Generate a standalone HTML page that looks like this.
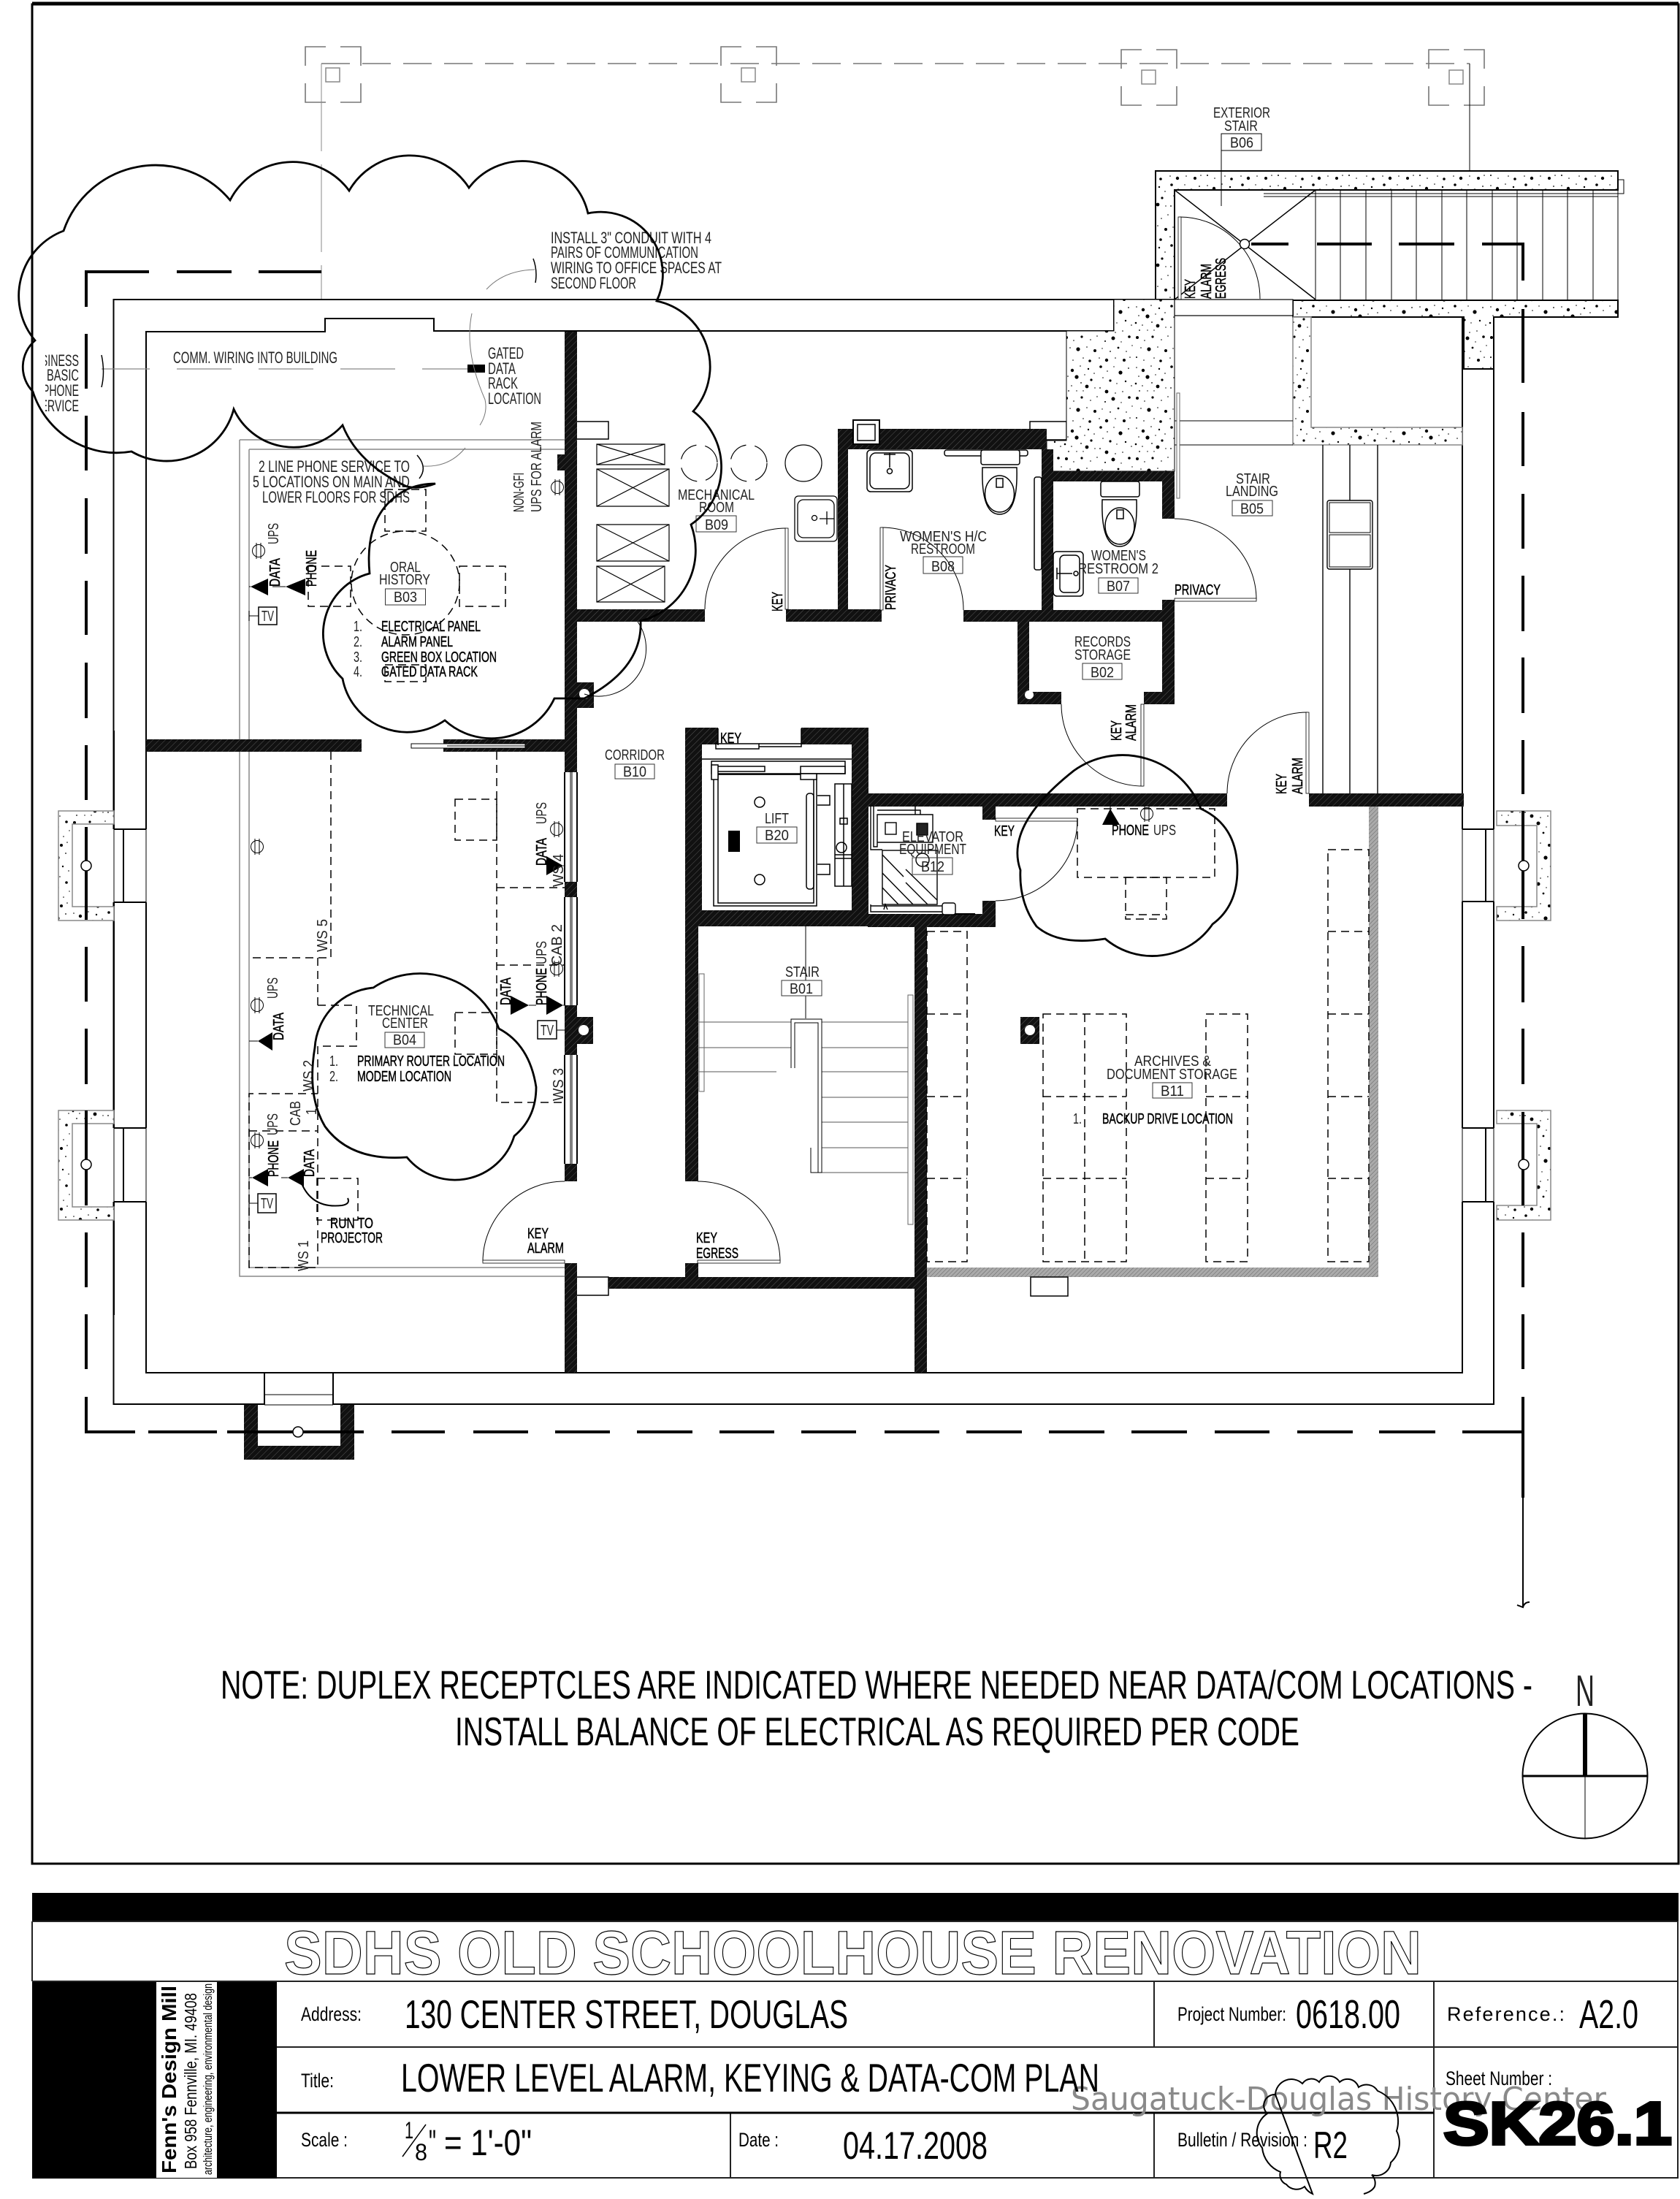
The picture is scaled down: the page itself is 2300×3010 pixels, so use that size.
<!DOCTYPE html>
<html><head><meta charset="utf-8"><style>
html,body{margin:0;padding:0;background:#fff}
svg{display:block}
text{font-family:"Liberation Sans",sans-serif;font-size:20px;fill:#222}
.n{font-size:22px}.b{stroke:#000;stroke-width:.5px;fill:#000}
.l{fill:none;stroke:#000;stroke-width:2}
.t{fill:none;stroke:#000;stroke-width:1}
.g{fill:none;stroke:#888;stroke-width:1.5}
.d{fill:none;stroke:#000;stroke-width:1.5;stroke-dasharray:11 7}
.c{fill:none;stroke:#000;stroke-width:2.8}
.k{fill:none;stroke:#000;stroke-width:4}
.w{fill:url(#h)}
.s{fill:url(#st);stroke:#000;stroke-width:2}
.sg{fill:url(#st);stroke:#888;stroke-width:1.5}
.tb{font-size:27px;fill:#000}.big{font-size:55px;fill:#000}
</style></head><body>
<svg width="2300" height="3010" viewBox="0 0 2300 3010" xmlns="http://www.w3.org/2000/svg">
<defs>
<pattern id="h" width="6" height="6" patternUnits="userSpaceOnUse" patternTransform="rotate(-45)"><rect width="6" height="6" fill="#111"/><line x1="0" y1="0" x2="6" y2="0" stroke="#555" stroke-width="1"/></pattern>
<pattern id="hg" width="4" height="4" patternUnits="userSpaceOnUse" patternTransform="rotate(-45)"><rect width="4" height="4" fill="#aaa"/><line x1="0" y1="0" x2="4" y2="0" stroke="#666" stroke-width="1"/></pattern>
<pattern id="st" width="97" height="83" patternUnits="userSpaceOnUse"><rect width="97" height="83" fill="#fff"/>
<g fill="#000"><circle cx="4" cy="5" r=".8"/><circle cx="13" cy="9" r="2.2"/><circle cx="24" cy="3" r=".8"/><circle cx="35" cy="7" r="1.2"/><circle cx="43" cy="13" r=".8"/><circle cx="7" cy="17" r=".8"/><circle cx="19" cy="18" r="2.6"/><circle cx="30" cy="15" r=".7"/><circle cx="39" cy="22" r="1.6"/><circle cx="3" cy="27" r="1.3"/><circle cx="12" cy="30" r=".8"/><circle cx="25" cy="26" r=".9"/><circle cx="33" cy="31" r="2.4"/><circle cx="44" cy="33" r=".7"/><circle cx="8" cy="37" r=".9"/><circle cx="19" cy="37" r=".7"/><circle cx="28" cy="37" r=".7"/>
<circle cx="52" cy="4" r="1.8"/><circle cx="61" cy="10" r=".8"/><circle cx="70" cy="4" r=".7"/><circle cx="79" cy="12" r="2.6"/><circle cx="90" cy="6" r=".9"/><circle cx="55" cy="19" r=".8"/><circle cx="65" cy="23" r="1.6"/><circle cx="74" cy="27" r=".7"/><circle cx="86" cy="24" r="1.2"/><circle cx="94" cy="30" r=".8"/><circle cx="51" cy="33" r=".9"/><circle cx="60" cy="38" r="2.4"/><circle cx="82" cy="38" r=".8"/><circle cx="72" cy="40" r=".8"/>
<circle cx="5" cy="47" r="2"/><circle cx="15" cy="51" r=".8"/><circle cx="26" cy="46" r="1.6"/><circle cx="38" cy="50" r=".8"/><circle cx="47" cy="45" r=".8"/><circle cx="58" cy="52" r="1"/><circle cx="69" cy="48" r="2.5"/><circle cx="80" cy="53" r=".7"/><circle cx="91" cy="46" r="1.8"/>
<circle cx="10" cy="61" r=".8"/><circle cx="21" cy="63" r="2.6"/><circle cx="33" cy="60" r=".8"/><circle cx="44" cy="65" r="2"/><circle cx="54" cy="62" r=".7"/><circle cx="65" cy="66" r=".9"/><circle cx="76" cy="61" r="1.4"/><circle cx="87" cy="66" r=".8"/><circle cx="95" cy="58" r=".7"/>
<circle cx="4" cy="74" r="1"/><circle cx="14" cy="78" r=".8"/><circle cx="28" cy="75" r=".8"/><circle cx="37" cy="79" r="1.8"/><circle cx="50" cy="75" r=".8"/><circle cx="60" cy="78" r="2.2"/><circle cx="72" cy="75" r=".8"/><circle cx="84" cy="78" r="2"/><circle cx="92" cy="74" r=".8"/></g></pattern>
<g id="r"><circle cx="0" cy="0" r="8.5" fill="none" stroke="#000" stroke-width="1"/><path d="M-3,-11V11M3,-11V11" stroke="#000" stroke-width="1" fill="none"/></g>
<path id="sq" fill="none" stroke="#777" stroke-width="1.6" d="M28,0H0V26M0,50V76H28M48,76H76V50M76,26V0H48"/>
<clipPath id="cl"><rect x="62" y="470" width="60" height="110"/></clipPath>
</defs>
<rect width="2300" height="3010" fill="#fff"/>

<!-- frame -->
<path d="M44,6V2551H2298V6Z" fill="none" stroke="#000" stroke-width="3"/>
<line x1="44" y1="5" x2="2298" y2="5" stroke="#000" stroke-width="5"/>

<!-- column grid -->
<use href="#sq" x="418" y="64"/><use href="#sq" x="987" y="64"/><use href="#sq" x="1535" y="68"/><use href="#sq" x="1956" y="68"/>
<path class="g" stroke-dasharray="39 17" style="stroke:#777" d="M440,87H2012"/>
<g class="g"><rect x="446" y="93" width="19" height="19"/><rect x="1015" y="93" width="19" height="19"/><rect x="1563" y="96" width="19" height="19"/><rect x="1984" y="96" width="19" height="19"/>
<path d="M440,87V410" stroke-dasharray="120 18" style="stroke-width:1"/></g>
<path d="M2012,87V234" class="t"/>

<!-- building outlines -->
<path class="l" d="M1581,410H155.5V1922H2045V434"/>
<path class="l" d="M1525,410V453H594V436H445V454H200V1879H2002V434"/>
<!-- window openings -->
<g>
<rect x="140" y="1135" width="62" height="100" fill="#fff"/><rect x="140" y="1544" width="62" height="101" fill="#fff"/>
<path class="t" d="M156,1135V1235M200,1135V1235M156,1544V1645M200,1544V1645"/>
<path class="l" d="M156,1135H200M156,1235H200M156,1544H200M156,1645H200M169,1135V1235M169,1544V1645M156,1000V1135M156,1235V1544M156,1645V1800M200,1000V1135M200,1235V1544M200,1645V1800"/>
<rect x="2000" y="1135" width="47" height="99" fill="#fff"/><rect x="2000" y="1544" width="47" height="101" fill="#fff"/>
<path class="t" d="M2002,1135V1234M2045,1135V1234M2002,1544V1645M2045,1544V1645"/>
<path class="l" d="M2002,1135H2045M2002,1234H2045M2002,1544H2045M2002,1645H2045M2034,1135V1234M2034,1544V1645"/>
<rect x="363" y="1881" width="92" height="43" fill="#fff"/>
<path class="l" d="M362,1879V1923M456,1879V1923"/><path class="t" d="M362,1909H456M362,1923H456"/>
</g>
<!-- inner room outline -->
<path class="g" d="M328,602H773M341,615H773M328,602V1747H773M341,615V1735H773"/>
<!-- archive hatch -->
<path d="M1874,1104H1887V1748H1269V1735H1874Z" fill="url(#hg)"/>
<!-- small rects -->
<g fill="#fff" stroke="#000" stroke-width="1.5"><rect x="783" y="577" width="50" height="24"/><rect x="781" y="1748" width="52" height="25"/><rect x="1410" y="577" width="50" height="25"/><rect x="1411" y="1748" width="51" height="26"/></g>

<!-- concrete -->
<path class="s" d="M1582,410V234H2215V260H1608V410Z"/>
<path class="s" d="M1770,411H2215V434H2045V505H2004V434H1770Z"/>
<path class="sg" d="M1770,434H1795V585H2002V609H1770Z"/>
<path class="s" style="stroke-width:1" d="M1525,410H1608V645H1433V603H1460V453H1525Z"/>
<g class="sg"><path d="M156,1110H80V1260H156V1241H99V1128H156Z"/><path d="M156,1520H80V1670H156V1652H99V1538H156Z"/><path d="M2049,1110H2123V1260H2049V1241H2104V1130H2049Z"/><path d="M2049,1520H2123V1670H2049V1650H2104V1538H2049Z"/></g>
<rect x="334" y="1923" width="19" height="75" class="w"/><rect x="466" y="1923" width="19" height="75" class="w"/><rect x="334" y="1979" width="151" height="19" class="w"/>

<!-- exterior stair -->
<path class="t" d="M1801,260V410M1835,260V410M1870,260V410M1905,260V410M1939,260V410M1974,260V410M2008,260V410M2043,260V410M2077,260V410M2112,260V410M2146,260V410M2181,260V410M2215,260V410"/>
<path class="t" style="stroke-width:1.5" d="M1608,260L1801,410M1801,260L1608,410"/>
<path class="t" d="M1730,265H2223V246H2215M1730,269H2215"/>
<path class="t" d="M1615,297A110,112 0 0 1 1725,409"/><rect x="1613" y="297" width="4" height="113" fill="#fff" stroke="#000" stroke-width=".8"/>
<rect x="1608" y="410" width="162" height="22" fill="#fff" stroke="#000" stroke-width="1.2"/>
<!-- stair landing -->
<path class="t" d="M1608,576H1770M1608,609H1770M1608,434V645"/><rect x="1611" y="538" width="4" height="144" fill="#fff" stroke="#666" stroke-width="1"/>
<path class="t" style="stroke-width:1.4" d="M1811,609V1086M1848,609V1086M1886,609V1086"/>
<rect x="1817" y="685" width="62" height="94" rx="3" fill="#fff" stroke="#000" stroke-width="1.4"/><rect x="1820" y="688" width="56" height="41" fill="none" stroke="#000"/><rect x="1820" y="732" width="56" height="44" fill="none" stroke="#000"/>

<!-- walls -->
<g class="w">
<rect x="773" y="454" width="17" height="603"/><rect x="773" y="1207" width="17" height="21"/><rect x="773" y="1376" width="17" height="68"/><rect x="773" y="1593" width="17" height="24"/><rect x="773" y="1729" width="17" height="150"/>
<rect x="790" y="934" width="23" height="35"/><rect x="790" y="1392" width="22" height="37"/>
<rect x="200" y="1012" width="295" height="17"/><rect x="607" y="1012" width="166" height="17"/>
<rect x="790" y="834" width="175" height="17"/><rect x="1076" y="834" width="131" height="17"/><rect x="1319" y="835" width="289" height="16"/>
<rect x="1147" y="587" width="14" height="248"/><rect x="1147" y="587" width="286" height="28"/>
<rect x="1426" y="615" width="16" height="220"/><rect x="1426" y="645" width="182" height="14"/><rect x="1591" y="645" width="17" height="65"/><rect x="1591" y="821" width="17" height="30"/>
<rect x="1393" y="851" width="16" height="113"/><rect x="1393" y="947" width="60" height="17"/><rect x="1591" y="851" width="17" height="113"/><rect x="1566" y="947" width="42" height="17"/>
<rect x="1188" y="1086" width="492" height="18"/><rect x="1792" y="1086" width="212" height="18"/><rect x="1345" y="1104" width="18" height="18"/><rect x="1345" y="1233" width="18" height="18"/><rect x="1188" y="1251" width="175" height="18"/>
<rect x="938" y="996" width="45" height="23"/><rect x="1097" y="996" width="92" height="23"/><rect x="938" y="996" width="23" height="272"/><rect x="1166" y="996" width="23" height="272"/><rect x="938" y="1246" width="251" height="22"/>
<rect x="938" y="1268" width="18" height="349"/><rect x="938" y="1729" width="18" height="35"/><rect x="833" y="1748" width="419" height="16"/><rect x="1252" y="1268" width="17" height="611"/>
<rect x="763" y="622" width="10" height="22"/><rect x="1397" y="1392" width="26" height="37"/>
</g>
<path class="k" style="stroke-width:2" d="M773,1057V1207M790,1057V1207M773,1228V1376M790,1228V1376M773,1444V1593M790,1444V1593"/><path class="t" d="M781,1057V1207M783,1057V1207M781,1228V1376M783,1228V1376M781,1444V1593M783,1444V1593"/>
<g fill="#fff"><circle cx="800" cy="950" r="7"/><circle cx="799" cy="1410" r="7"/><circle cx="1410" cy="1410" r="7"/><circle cx="1409" cy="951" r="6"/></g>
<rect x="1168" y="575" width="36" height="33" fill="#fff" stroke="#000" stroke-width="2"/><rect x="1174" y="581" width="24" height="22" fill="none" stroke="#000" stroke-width="1.5"/>

<!-- property dashed line -->
<path class="k" d="M118,420V372H204M242,372H317M354,372H440M118,457V532M118,569V644M118,682V758M118,795V869M118,907V983M118,1020V1095M118,1132V1259M118,1296V1371M118,1408V1484M118,1520V1650M118,1687V1762M118,1799V1874M118,1912V1960H185M203,1960H297M311,1960H498M536,1960H609M648,1960H723M760,1960H835M872,1960H948M985,1960H1060M1097,1960H1172M1211,1960H1286M1323,1960H1399M1436,1960H1512M1549,1960H1625M1663,1960H1738M1776,1960H1852M1888,1960H1965M2002,1960H2085M2085,1960V2050M1713,334H1764M1803,334H1878M1915,334H1991M2029,334H2085V384M2085,423V524M2085,564V638M2085,676V751M2085,788V864M2085,900V976M2085,1013V1087M2085,1110V1258M2085,1295V1372M2085,1408V1484M2085,1522V1650M2085,1687V1762M2085,1799V1874M2085,1912V1960"/>
<path class="l" d="M2085,2050V2200M2077,2197L2085,2200Q2087,2193 2094,2193"/>
<g fill="#fff" stroke="#000" stroke-width="1.5"><circle cx="118" cy="1185" r="7"/><circle cx="118" cy="1594" r="7"/><circle cx="2086" cy="1185" r="7"/><circle cx="2086" cy="1594" r="7"/><circle cx="408" cy="1960" r="7"/><circle cx="1704" cy="334" r="6.5"/></g>

<!-- gray data line -->
<path d="M139,505H205M242,505H317M354,505H429M466,505H541M578,505H640" stroke="#888" stroke-width="1.2" fill="none"/>
<rect x="640" y="499" width="24" height="11" fill="#000"/>
<path class="t" style="stroke:#777" d="M646,429Q635,480 664,547Q668,565 657,582M666,396Q690,370 732,369M637,613Q615,640 580,638"/>
<path class="t" style="stroke-width:1.5" d="M730,354Q736,370 733,387M571,623Q586,640 574,655M139,486Q144,510 139,530"/>

<!-- mech -->
<g class="t" style="stroke-width:1.2"><path d="M817,608H910V636H817ZM817,608L910,636M910,608L817,636"/><path d="M817,642H916V693H817ZM817,642L916,693M916,642L817,693"/><path d="M817,718H916V768H817ZM817,718L916,768M916,718L817,768"/><path d="M817,775H910V824H817ZM817,775L910,824M910,775L817,824"/>
<circle cx="957" cy="634" r="25" stroke-dasharray="30 12"/><circle cx="1025" cy="634" r="25" stroke-dasharray="30 12"/><circle cx="1100" cy="634" r="25"/></g>
<g class="t" style="stroke-width:1.3"><rect x="1088" y="679" width="58" height="62" rx="5"/><rect x="1092" y="684" width="50" height="52" rx="8"/><circle cx="1115" cy="709" r="3.5"/><path d="M1132,700V718M1122,710H1142"/></g>
<!-- restrooms fixtures -->
<g class="t" style="stroke-width:1.5">
<rect x="1187" y="616" width="62" height="57" rx="5"/><rect x="1191" y="620" width="54" height="49" rx="8"/><circle cx="1218" cy="645" r="3.5"/><path d="M1218,620V640M1210,622H1226"/>
<rect x="1293" y="616" width="114" height="8" rx="3" fill="#fff"/><rect x="1343" y="616" width="53" height="20" rx="3" fill="#fff"/><path d="M1345,640Q1343,704 1368.5,704Q1394,704 1392,640Z" fill="#fff"/><ellipse cx="1368.5" cy="676" rx="20" ry="25"/><rect x="1364" y="655" width="9" height="12"/>
<rect x="1416" y="653" width="10" height="127" rx="3"/>
<rect x="1507" y="659" width="53" height="21" rx="3" fill="#fff"/><path d="M1509,684Q1507,748 1533,748Q1558,748 1556,684Z" fill="#fff"/><ellipse cx="1533" cy="720" rx="20" ry="25"/><rect x="1529" y="698" width="9" height="12"/>
<rect x="1442" y="755" width="41" height="61" rx="5"/><rect x="1451" y="760" width="27" height="51" rx="6"/><circle cx="1473" cy="785" r="3"/><path d="M1447,785H1468M1447,777V793"/>
</g>
<!-- doors -->
<g class="t">
<path d="M1076,723A111,111 0 0 0 965,834"/><rect x="1075" y="723" width="4" height="111" fill="#fff" stroke-width=".8"/>
<path d="M1207,722A112,113 0 0 1 1319,835"/><rect x="1205" y="722" width="4" height="113" fill="#fff" stroke-width=".8"/>
<path d="M1720,821A112,111 0 0 0 1608,710"/><rect x="1608" y="819" width="112" height="4" fill="#fff" stroke-width=".8"/>
<path d="M1453,964A112,112 0 0 0 1565,1076"/><rect x="1562" y="964" width="4" height="112" fill="#fff" stroke-width=".8"/>
<path d="M1790,975A110,111 0 0 0 1680,1086"/><rect x="1788" y="975" width="4" height="111" fill="#fff" stroke-width=".8"/>
<path d="M1475,1122A112,111 0 0 1 1363,1233"/><rect x="1363" y="1120" width="112" height="4" fill="#fff" stroke-width=".8"/>
<path d="M661,1727A112,110 0 0 1 773,1617"/><rect x="661" y="1725" width="112" height="4" fill="#fff" stroke-width=".8"/>
<path d="M1068,1727A113,110 0 0 0 955,1617"/><rect x="955" y="1725" width="113" height="4" fill="#fff" stroke-width=".8"/>
<path d="M800,950A65,65 0 0 0 873,851"/>
<rect x="563" y="1018" width="156" height="6" fill="#fff" stroke="#000"/><path d="M612,1021H719"/>
</g>

<!-- lift -->
<g class="t" style="stroke-width:1.5">
<rect x="977" y="1060" width="141" height="180" fill="#fff"/><rect x="983" y="1060" width="131" height="176"/>
<rect x="974" y="1042" width="183" height="17" fill="#fff"/><rect x="980" y="1049" width="67" height="7"/><rect x="1096" y="1049" width="61" height="10"/><rect x="974" y="1047" width="9" height="20" fill="#fff"/><rect x="1096" y="1059" width="22" height="8" fill="#fff"/>
<rect x="980" y="1018" width="59" height="7"/><path d="M961,1039H1166M1039,1018H1097V1022H1039M983,997V1020M1097,997V1020"/>
<circle cx="1040" cy="1098" r="7"/><circle cx="1040" cy="1204" r="7"/>
<rect x="1104" y="1086" width="10" height="131" rx="4"/>
<rect x="1143" y="1073" width="23" height="140"/><path d="M1119,1089H1136V1102H1119M1119,1183H1136V1197H1119M1155,1073V1213M1150,1120H1160V1128H1150Z"/><circle cx="1152" cy="1160" r="7"/><path d="M1143,1170H1166M1143,1175H1166"/>
</g>
<rect x="997" y="1137" width="16" height="29" fill="#000"/>
<!-- elevator equip -->
<g class="t" style="stroke-width:1.4">
<path d="M1192,1103V1163H1208M1196,1103V1159H1201V1115H1277V1153H1201M1201,1109H1260V1115M1253,1103V1115"/>
<rect x="1212" y="1126" width="15" height="16"/><rect x="1255" y="1127" width="15" height="16" fill="#222"/>
<rect x="1208" y="1164" width="75" height="74"/>
<path d="M1208,1170L1237,1200M1208,1195L1250,1238M1208,1215L1230,1238M1240,1190L1283,1232M1240,1208L1270,1238"/>
<circle cx="1263" cy="1177" r="9"/>
<path d="M1192,1238V1248H1290M1192,1240H1290M1210,1245L1212,1238L1215,1245"/><rect x="1290" y="1236" width="18" height="16" rx="3" fill="#fff"/><path d="M1308,1251H1335" style="stroke-width:2"/>
</g>

<!-- interior stair -->
<g class="t">
<path style="stroke:#555" d="M955,1399H1083M1125,1399H1243M955,1434H1083M1125,1434H1243M955,1467H1063M1125,1467H1243M1125,1502H1243M1125,1536H1243M1125,1571H1243M1125,1605H1243"/>
<path d="M1103,1268V1342M1103,1363V1394M1083,1462V1395H1125V1605H1110V1571"/><path d="M1088,1462V1400H1120V1605"/>
<rect x="957" y="1333" width="7" height="161" stroke="#666"/><rect x="1243" y="1362" width="7" height="314" stroke="#666"/>
</g>

<!-- dashed furniture -->
<g class="d">
<path d="M453,1029V1311H341M435,1311V1376M435,1376H488V1432H435M435,1432V1735H341V1497H435M341,1548H435"/>
<path d="M680,1029V1509H773M680,1215H773M680,1321H773"/>
<rect x="623" y="1094" width="57" height="56"/><rect x="623" y="1386" width="57" height="57"/><rect x="434" y="1613" width="56" height="57"/>
<rect x="527" y="670" width="56" height="57"/><rect x="422" y="775" width="58" height="55"/><rect x="629" y="775" width="63" height="55"/><rect x="527" y="910" width="56" height="23"/>
<ellipse cx="555" cy="798" rx="74" ry="71"/>
<rect x="1269" y="1275" width="55" height="452"/><path d="M1269,1388H1324M1269,1501H1324M1269,1613H1324"/>
<rect x="1428" y="1388" width="114" height="339"/><path d="M1485,1388V1727M1428,1501H1542M1428,1613H1542"/>
<rect x="1651" y="1388" width="57" height="339"/><path d="M1651,1501H1708M1651,1613H1708"/>
<rect x="1818" y="1163" width="56" height="564"/><path d="M1818,1275H1874M1818,1388H1874M1818,1501H1874M1818,1613H1874"/>
<rect x="1475" y="1107" width="188" height="94"/><rect x="1541" y="1201" width="56" height="57"/><path d="M1541,1252H1597"/>
</g>
<!-- run to projector -->
<path class="l" d="M411,1615Q425,1655 468,1650Q480,1648 476,1640"/>

<!-- device symbols -->
<g fill="#000">
<path d="M343,803L367,792V815Z"/><path d="M391,803L418,792V815Z"/><path d="M771,1185L748,1172V1198Z"/><path d="M771,1376L748,1363V1389Z"/><path d="M724,1376L699,1363V1389Z"/><path d="M353,1425L373,1413V1438Z"/><path d="M345,1612L367,1600V1624Z"/><path d="M394,1612L416,1600V1624Z"/><path d="M1520,1107L1509,1129H1533Z"/>
</g>
<path class="t" d="M341,803H343M373,803H391M341,1425H353M771,1185H773M771,1376H773M724,1376H734M341,1612H345M385,1612H394M1520,1086V1107"/>
<g><use href="#r" x="354" y="754"/><use href="#r" x="763" y="667"/><use href="#r" x="762" y="1135"/><use href="#r" x="762" y="1326"/><use href="#r" x="352" y="1159"/><use href="#r" x="352" y="1376"/><use href="#r" x="352" y="1561"/><use href="#r" x="1570" y="1114"/></g>
<g fill="#fff" stroke="#000" stroke-width="1.5"><rect x="354" y="831" width="25" height="24"/><rect x="736" y="1397" width="26" height="25"/><rect x="353" y="1634" width="25" height="26"/></g>
<path class="t" d="M341,843H354M762,1410H773M341,1647H353M341,836V850M341,1640V1654"/>
<text x="358" y="850" textLength="17" lengthAdjust="spacingAndGlyphs">TV</text><text x="740" y="1417" textLength="18" lengthAdjust="spacingAndGlyphs">TV</text><text x="357" y="1654" textLength="17" lengthAdjust="spacingAndGlyphs">TV</text>

<!-- room tag boxes -->
<g class="t"><rect x="1672" y="183" width="55" height="23" style="stroke:#000"/><path d="M1672,206V282"/>
<g style="stroke:#333"><rect x="527.5" y="806" width="55" height="22"/><rect x="953" y="706" width="55" height="22"/><rect x="1264" y="762" width="54" height="23"/><rect x="1504" y="791" width="54" height="21"/><rect x="1687" y="685" width="55" height="21"/><rect x="1482" y="908" width="54" height="22"/><rect x="842" y="1046" width="54" height="20"/><rect x="1036" y="1132" width="55" height="22"/><rect x="1249" y="1174" width="55" height="23"/><rect x="1578" y="1482" width="54" height="21"/><rect x="527" y="1413" width="54" height="21"/><rect x="1070" y="1342" width="55" height="21"/></g></g>

<!-- notes -->
<g class="n">
<text class="n" x="754" y="333" textLength="220" lengthAdjust="spacingAndGlyphs">INSTALL 3" CONDUIT WITH 4</text>
<text class="n" x="754" y="353" textLength="202" lengthAdjust="spacingAndGlyphs">PAIRS OF COMMUNICATION</text>
<text class="n" x="754" y="374" textLength="234" lengthAdjust="spacingAndGlyphs">WIRING TO OFFICE SPACES AT</text>
<text class="n" x="754" y="395" textLength="117" lengthAdjust="spacingAndGlyphs">SECOND FLOOR</text>
<text class="n" x="668" y="491" textLength="49" lengthAdjust="spacingAndGlyphs">GATED</text>
<text class="n" x="668" y="512" textLength="38" lengthAdjust="spacingAndGlyphs">DATA</text>
<text class="n" x="668" y="532" textLength="41" lengthAdjust="spacingAndGlyphs">RACK</text>
<text class="n" x="668" y="553" textLength="73" lengthAdjust="spacingAndGlyphs">LOCATION</text>
<text class="n" x="237" y="497" textLength="225" lengthAdjust="spacingAndGlyphs">COMM. WIRING INTO BUILDING</text>
<g clip-path="url(#cl)">
<text class="n" x="36" y="501" textLength="72" lengthAdjust="spacingAndGlyphs">BUSINESS</text>
<text class="n" x="64" y="521" textLength="44" lengthAdjust="spacingAndGlyphs">BASIC</text>
<text class="n" x="58" y="542" textLength="50" lengthAdjust="spacingAndGlyphs">PHONE</text>
<text class="n" x="46" y="563" textLength="62" lengthAdjust="spacingAndGlyphs">SERVICE</text>
</g>
<text class="n" x="354" y="646" textLength="207" lengthAdjust="spacingAndGlyphs">2 LINE PHONE SERVICE TO</text>
<text class="n" x="346" y="667" textLength="215" lengthAdjust="spacingAndGlyphs">5 LOCATIONS ON MAIN AND</text>
<text class="n" x="359" y="688" textLength="202" lengthAdjust="spacingAndGlyphs">LOWER FLOORS FOR SDHS</text>
</g>
<text x="717" y="701" transform="rotate(-90 717 701)" textLength="54" lengthAdjust="spacingAndGlyphs">NON-GFI</text>
<text x="741" y="701" transform="rotate(-90 741 701)" textLength="124" lengthAdjust="spacingAndGlyphs">UPS FOR ALARM</text>
<text x="381" y="745" transform="rotate(-90 381 745)" textLength="29" lengthAdjust="spacingAndGlyphs">UPS</text>
<text class="b" x="383" y="803" transform="rotate(-90 383 803)" textLength="39" lengthAdjust="spacingAndGlyphs">DATA</text>
<text class="b" x="433" y="803" transform="rotate(-90 433 803)" textLength="50" lengthAdjust="spacingAndGlyphs">PHONE</text>

<!-- room labels -->
<text x="534" y="783" textLength="42" lengthAdjust="spacingAndGlyphs">ORAL</text><text x="519" y="800" textLength="70" lengthAdjust="spacingAndGlyphs">HISTORY</text><text x="539" y="824" textLength="32" lengthAdjust="spacingAndGlyphs">B03</text>
<text x="484" y="864" textLength="12" lengthAdjust="spacingAndGlyphs">1.</text><text class="b" x="522" y="864" textLength="136" lengthAdjust="spacingAndGlyphs">ELECTRICAL PANEL</text>
<text x="484" y="885" textLength="12" lengthAdjust="spacingAndGlyphs">2.</text><text class="b" x="522" y="885" textLength="98" lengthAdjust="spacingAndGlyphs">ALARM PANEL</text>
<text x="484" y="906" textLength="12" lengthAdjust="spacingAndGlyphs">3.</text><text class="b" x="522" y="906" textLength="158" lengthAdjust="spacingAndGlyphs">GREEN BOX LOCATION</text>
<text x="484" y="926" textLength="12" lengthAdjust="spacingAndGlyphs">4.</text><text class="b" x="522" y="926" textLength="132" lengthAdjust="spacingAndGlyphs">GATED DATA RACK</text>
<text x="928" y="684" textLength="105" lengthAdjust="spacingAndGlyphs">MECHANICAL</text><text x="957" y="701" textLength="48" lengthAdjust="spacingAndGlyphs">ROOM</text><text x="965" y="725" textLength="32" lengthAdjust="spacingAndGlyphs">B09</text>
<text class="b" x="1071" y="837" transform="rotate(-90 1071 837)" textLength="27" lengthAdjust="spacingAndGlyphs">KEY</text>
<text x="1661" y="161" textLength="78" lengthAdjust="spacingAndGlyphs">EXTERIOR</text><text x="1676" y="179" textLength="46" lengthAdjust="spacingAndGlyphs">STAIR</text><text x="1684" y="202" textLength="32" lengthAdjust="spacingAndGlyphs">B06</text>
<text class="b" x="1636" y="409" transform="rotate(-90 1636 409)" textLength="27" lengthAdjust="spacingAndGlyphs">KEY</text>
<text class="b" x="1658" y="409" transform="rotate(-90 1658 409)" textLength="48" lengthAdjust="spacingAndGlyphs">ALARM</text>
<text class="b" x="1678" y="409" transform="rotate(-90 1678 409)" textLength="56" lengthAdjust="spacingAndGlyphs">EGRESS</text>
<text x="1232" y="741" textLength="119" lengthAdjust="spacingAndGlyphs">WOMEN'S H/C</text><text x="1247" y="758" textLength="88" lengthAdjust="spacingAndGlyphs">RESTROOM</text><text x="1275" y="782" textLength="32" lengthAdjust="spacingAndGlyphs">B08</text>
<text class="b" x="1226" y="835" transform="rotate(-90 1226 835)" textLength="62" lengthAdjust="spacingAndGlyphs">PRIVACY</text>
<text x="1494" y="767" textLength="75" lengthAdjust="spacingAndGlyphs">WOMEN'S</text><text x="1476" y="785" textLength="110" lengthAdjust="spacingAndGlyphs">RESTROOM 2</text><text x="1515" y="809" textLength="32" lengthAdjust="spacingAndGlyphs">B07</text>
<text class="b" x="1608" y="814" textLength="63" lengthAdjust="spacingAndGlyphs">PRIVACY</text>
<text x="1692" y="662" textLength="47" lengthAdjust="spacingAndGlyphs">STAIR</text><text x="1678" y="679" textLength="72" lengthAdjust="spacingAndGlyphs">LANDING</text><text x="1698" y="703" textLength="32" lengthAdjust="spacingAndGlyphs">B05</text>
<text x="1471" y="885" textLength="77" lengthAdjust="spacingAndGlyphs">RECORDS</text><text x="1471" y="903" textLength="77" lengthAdjust="spacingAndGlyphs">STORAGE</text><text x="1493" y="927" textLength="32" lengthAdjust="spacingAndGlyphs">B02</text>
<text class="b" x="1535" y="1014" transform="rotate(-90 1535 1014)" textLength="28" lengthAdjust="spacingAndGlyphs">KEY</text>
<text class="b" x="1555" y="1014" transform="rotate(-90 1555 1014)" textLength="50" lengthAdjust="spacingAndGlyphs">ALARM</text>
<text class="b" x="1761" y="1087" transform="rotate(-90 1761 1087)" textLength="28" lengthAdjust="spacingAndGlyphs">KEY</text>
<text class="b" x="1783" y="1087" transform="rotate(-90 1783 1087)" textLength="50" lengthAdjust="spacingAndGlyphs">ALARM</text>
<text class="b" x="1361" y="1144" textLength="28" lengthAdjust="spacingAndGlyphs">KEY</text>
<text class="b" x="1522" y="1143" textLength="51" lengthAdjust="spacingAndGlyphs">PHONE</text><text x="1579" y="1143" textLength="31" lengthAdjust="spacingAndGlyphs">UPS</text>
<text x="1553" y="1459" textLength="105" lengthAdjust="spacingAndGlyphs">ARCHIVES &amp;</text><text x="1515" y="1477" textLength="179" lengthAdjust="spacingAndGlyphs">DOCUMENT STORAGE</text><text x="1589" y="1500" textLength="32" lengthAdjust="spacingAndGlyphs">B11</text>
<text x="1469" y="1538" textLength="12" lengthAdjust="spacingAndGlyphs">1.</text><text class="b" x="1509" y="1538" textLength="179" lengthAdjust="spacingAndGlyphs">BACKUP DRIVE LOCATION</text>
<text x="828" y="1040" textLength="82" lengthAdjust="spacingAndGlyphs">CORRIDOR</text><text x="853" y="1063" textLength="32" lengthAdjust="spacingAndGlyphs">B10</text>
<text class="b" x="986" y="1017" textLength="29" lengthAdjust="spacingAndGlyphs">KEY</text>
<text x="1047" y="1127" textLength="33" lengthAdjust="spacingAndGlyphs">LIFT</text><text x="1047" y="1150" textLength="33" lengthAdjust="spacingAndGlyphs">B20</text>
<text x="1235" y="1152" textLength="84" lengthAdjust="spacingAndGlyphs">ELEVATOR</text><text x="1231" y="1169" textLength="92" lengthAdjust="spacingAndGlyphs">EQUIPMENT</text><text x="1261" y="1193" textLength="32" lengthAdjust="spacingAndGlyphs">B12</text>
<text x="748" y="1128" transform="rotate(-90 748 1128)" textLength="30" lengthAdjust="spacingAndGlyphs">UPS</text>
<text class="b" x="748" y="1185" transform="rotate(-90 748 1185)" textLength="38" lengthAdjust="spacingAndGlyphs">DATA</text>
<text x="771" y="1214" transform="rotate(-90 771 1214)" textLength="45" lengthAdjust="spacingAndGlyphs">WS 4</text>
<text x="448" y="1303" transform="rotate(-90 448 1303)" textLength="45" lengthAdjust="spacingAndGlyphs">WS 5</text>
<text x="769" y="1322" transform="rotate(-90 769 1322)" textLength="57" lengthAdjust="spacingAndGlyphs">CAB 2</text>
<text x="748" y="1320" transform="rotate(-90 748 1320)" textLength="32" lengthAdjust="spacingAndGlyphs">UPS</text>
<text class="b" x="748" y="1376" transform="rotate(-90 748 1376)" textLength="51" lengthAdjust="spacingAndGlyphs">PHONE</text>
<text class="b" x="699" y="1376" transform="rotate(-90 699 1376)" textLength="38" lengthAdjust="spacingAndGlyphs">DATA</text>
<text x="504" y="1390" textLength="90" lengthAdjust="spacingAndGlyphs">TECHNICAL</text><text x="523" y="1407" textLength="63" lengthAdjust="spacingAndGlyphs">CENTER</text><text x="538" y="1430" textLength="32" lengthAdjust="spacingAndGlyphs">B04</text>
<text x="451" y="1459" textLength="12" lengthAdjust="spacingAndGlyphs">1.</text><text class="b" x="489" y="1459" textLength="202" lengthAdjust="spacingAndGlyphs">PRIMARY ROUTER LOCATION</text>
<text x="451" y="1480" textLength="12" lengthAdjust="spacingAndGlyphs">2.</text><text class="b" x="489" y="1480" textLength="129" lengthAdjust="spacingAndGlyphs">MODEM LOCATION</text>
<text x="380" y="1367" transform="rotate(-90 380 1367)" textLength="29" lengthAdjust="spacingAndGlyphs">UPS</text>
<text class="b" x="388" y="1424" transform="rotate(-90 388 1424)" textLength="38" lengthAdjust="spacingAndGlyphs">DATA</text>
<text x="429" y="1494" transform="rotate(-90 429 1494)" textLength="43" lengthAdjust="spacingAndGlyphs">WS 2</text>
<text x="411" y="1541" transform="rotate(-90 411 1541)" textLength="34" lengthAdjust="spacingAndGlyphs">CAB</text>
<text x="433" y="1526" transform="rotate(-90 433 1526)" textLength="9" lengthAdjust="spacingAndGlyphs">1</text>
<text x="380" y="1554" transform="rotate(-90 380 1554)" textLength="30" lengthAdjust="spacingAndGlyphs">UPS</text>
<text class="b" x="381" y="1611" transform="rotate(-90 381 1611)" textLength="50" lengthAdjust="spacingAndGlyphs">PHONE</text>
<text class="b" x="430" y="1611" transform="rotate(-90 430 1611)" textLength="38" lengthAdjust="spacingAndGlyphs">DATA</text>
<text class="b" x="452" y="1681" textLength="59" lengthAdjust="spacingAndGlyphs">RUN TO</text><text class="b" x="439" y="1701" textLength="85" lengthAdjust="spacingAndGlyphs">PROJECTOR</text>
<text x="422" y="1740" transform="rotate(-90 422 1740)" textLength="42" lengthAdjust="spacingAndGlyphs">WS 1</text>
<text x="771" y="1507" transform="rotate(-90 771 1507)" textLength="45" lengthAdjust="spacingAndGlyphs">WS 3</text>
<text class="b" x="722" y="1695" textLength="29" lengthAdjust="spacingAndGlyphs">KEY</text><text class="b" x="722" y="1715" textLength="50" lengthAdjust="spacingAndGlyphs">ALARM</text>
<text class="b" x="953" y="1701" textLength="29" lengthAdjust="spacingAndGlyphs">KEY</text><text class="b" x="953" y="1722" textLength="58" lengthAdjust="spacingAndGlyphs">EGRESS</text>
<text x="1075" y="1337" textLength="47" lengthAdjust="spacingAndGlyphs">STAIR</text><text x="1081" y="1360" textLength="32" lengthAdjust="spacingAndGlyphs">B01</text>

<!-- clouds -->
<path class="c" d="M87,316A133,133 0 0 1 315,274A96,96 0 0 1 478,261A96,96 0 0 1 642,257A92,92 0 0 1 805,292A85,85 0 0 1 899,412A92,92 0 0 1 949,563A95,95 0 0 1 946,718A100,100 0 0 1 877,850Q880,915 800,956L759,956A95,95 0 0 1 609,986A90,90 0 0 1 469,929A85,85 0 0 1 506,785Q498,700 557,670Q575,662 596,662Q575,670 557,666Q490,635 469,582A90,90 0 0 1 320,560A95,95 0 0 1 180,618A120,120 0 0 1 45,536A48,48 0 0 1 48,466A95,95 0 0 1 87,316Z"/>
<path class="c" d="M431,1434A88,88 0 0 1 511,1352A115,115 0 0 1 683,1408Q725,1430 734,1488Q734,1530 704,1555A85,85 0 0 1 557,1584Q480,1590 445,1542Q420,1500 431,1434Z"/>
<path class="c" d="M1397,1191Q1375,1130 1470,1055A115,115 0 0 1 1644,1107Q1694,1130 1694,1191Q1694,1240 1660,1265A100,100 0 0 1 1513,1285Q1450,1295 1419,1268Q1395,1235 1397,1191Z"/>

<!-- note -->
<text style="font-size:55px;fill:#000" x="302" y="2325" textLength="1796" lengthAdjust="spacingAndGlyphs">NOTE: DUPLEX RECEPTCLES ARE INDICATED WHERE NEEDED NEAR DATA/COM LOCATIONS -</text>
<text style="font-size:55px;fill:#000" x="623" y="2389" textLength="1156" lengthAdjust="spacingAndGlyphs">INSTALL BALANCE OF ELECTRICAL AS REQUIRED PER CODE</text>
<!-- north -->
<text style="font-size:60px" x="2157" y="2335" textLength="26" lengthAdjust="spacingAndGlyphs">N</text>
<circle cx="2170" cy="2431" r="85.5" fill="none" stroke="#000" stroke-width="2"/>
<path d="M2170,2345V2431" stroke="#000" stroke-width="6"/><path d="M2085,2431H2255" stroke="#000" stroke-width="3"/><path d="M2170,2431V2517" stroke="#000" stroke-width="1"/>

<!-- title block -->
<rect x="44" y="2591" width="2254" height="39" fill="#000"/>
<rect x="44" y="2712" width="335" height="270" fill="#000"/>
<rect x="214" y="2713" width="83" height="268" fill="#fff"/>
<path d="M44,2630V2712M44,2630H2297V2981H379M44,2712H2297M379,2802H2297M1963,2712V2981M1580,2712V2802M1580,2892V2981M1000,2892V2981" fill="none" stroke="#222" stroke-width="2"/>
<path d="M379,2892H1963" stroke="#000" stroke-width="3"/>
<text style="font-size:44px;font-family:'DejaVu Sans',sans-serif;fill:#8a8a8a" x="1466" y="2888" textLength="733" lengthAdjust="spacingAndGlyphs">Saugatuck-Douglas History Center</text>
<text style="font-size:84px;font-weight:bold;fill:#fff;stroke:#000;stroke-width:1.2" x="389" y="2702" textLength="1557" lengthAdjust="spacingAndGlyphs">SDHS OLD SCHOOLHOUSE RENOVATION</text>
<text class="tb" x="412" y="2766" textLength="83" lengthAdjust="spacingAndGlyphs">Address:</text>
<text class="big" x="554" y="2776" textLength="607" lengthAdjust="spacingAndGlyphs">130 CENTER STREET, DOUGLAS</text>
<text class="tb" x="412" y="2857" textLength="45" lengthAdjust="spacingAndGlyphs">Title:</text>
<text class="big" x="549" y="2863" textLength="956" lengthAdjust="spacingAndGlyphs">LOWER LEVEL ALARM, KEYING &amp; DATA-COM PLAN</text>
<text class="tb" x="412" y="2938" textLength="64" lengthAdjust="spacingAndGlyphs">Scale :</text>
<text style="font-size:32px;fill:#000" x="554" y="2927" textLength="12" lengthAdjust="spacingAndGlyphs">1</text>
<path d="M551,2952L583,2908" stroke="#000" stroke-width="1.5"/>
<text style="font-size:32px;fill:#000" x="568" y="2957" textLength="17" lengthAdjust="spacingAndGlyphs">8</text>
<text style="font-size:50px;fill:#000" x="587" y="2950" textLength="10" lengthAdjust="spacingAndGlyphs">"</text>
<text style="font-size:50px;fill:#000" x="608" y="2950" textLength="120" lengthAdjust="spacingAndGlyphs">= 1'-0"</text>
<text class="tb" x="1011" y="2938" textLength="55" lengthAdjust="spacingAndGlyphs">Date :</text>
<text class="big" style="font-size:53px" x="1154" y="2955" textLength="198" lengthAdjust="spacingAndGlyphs">04.17.2008</text>
<text class="tb" x="1612" y="2766" textLength="149" lengthAdjust="spacingAndGlyphs">Project Number:</text>
<text class="big" x="1774" y="2776" textLength="143" lengthAdjust="spacingAndGlyphs">0618.00</text>
<text class="tb" x="1981" y="2766" textLength="161" lengthAdjust="spacing">Reference.:</text>
<text class="big" x="2162" y="2776" textLength="81" lengthAdjust="spacingAndGlyphs">A2.0</text>
<text class="tb" x="1979" y="2854" textLength="146" lengthAdjust="spacingAndGlyphs">Sheet Number :</text>
<text style="font-size:83px;font-weight:bold;fill:#000;stroke:#000;stroke-width:4" x="1976" y="2935" textLength="313" lengthAdjust="spacingAndGlyphs">SK26.1</text>
<text class="tb" x="1612" y="2938" textLength="178" lengthAdjust="spacingAndGlyphs">Bulletin / Revision :</text>
<text style="font-size:52px;fill:#000" x="1798" y="2954" textLength="47" lengthAdjust="spacingAndGlyphs">R2</text>
<text style="font-size:28px;font-weight:bold;fill:#000" transform="rotate(-90 241 2975)" x="241" y="2975" textLength="257" lengthAdjust="spacingAndGlyphs">Fenn's Design Mill</text>
<text style="font-size:23px;fill:#000" transform="rotate(-90 269 2969)" x="269" y="2969" textLength="241" lengthAdjust="spacingAndGlyphs">Box 958 Fennville, MI. 49408</text>
<text style="font-size:17px;fill:#000" transform="rotate(-90 290 2977)" x="290" y="2977" textLength="262" lengthAdjust="spacingAndGlyphs">architecture, engineering, environmental design</text>
<!-- R2 cloud -->
<path class="l" d="M1746,2867A22,22 0 0 1 1783,2852A15,15 0 0 1 1806,2850A16,16 0 0 1 1834,2850A16,16 0 0 1 1860,2857A18,18 0 0 1 1886,2862A45,45 0 0 1 1912,2917A36,36 0 0 1 1904,2960A20,20 0 0 1 1878,2977A16,16 0 0 1 1882,2993Q1878,3000 1867,3003M1797,3003Q1790,3000 1786,2993A18,18 0 0 1 1761,2990A14,14 0 0 1 1753,2973A40,40 0 0 1 1728,2940A32,32 0 0 1 1735,2893A15,15 0 0 1 1746,2867Z"/>
</svg>
</body></html>
